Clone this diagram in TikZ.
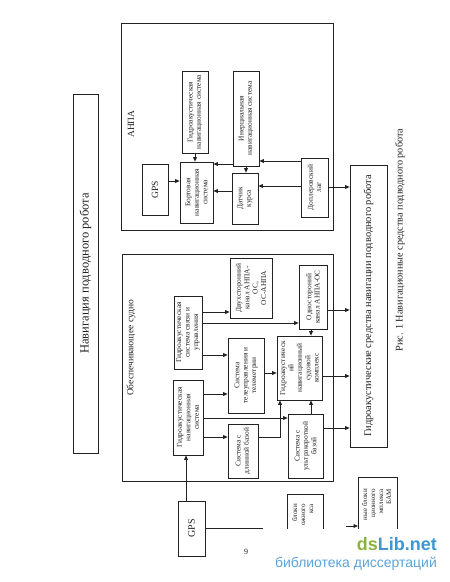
\documentclass[tikz,border=0pt]{standalone}
\usepackage{fontspec}
\setmainfont{Liberation Serif}
\newfontfamily\wmfont{Liberation Sans}
\usetikzlibrary{arrows.meta}
\definecolor{ink}{HTML}{222222}
\definecolor{frame}{HTML}{6A6A6A}
\definecolor{wmgreen}{HTML}{8CB43C}
\definecolor{wmblue}{HTML}{3D98D0}
\definecolor{wmlight}{HTML}{5AA5DA}
% box: name, x1, y1, x2, y2, text options, text
\newcommand{\bx}[7]{\node[box, minimum width={(#4-#2)*1pt}, minimum height={(#5-#3)*1pt}, label={[bt,#6]center:{#7}}] (#1) at ({(#2+#4)/2},{(#3+#5)/2}) {};}
\begin{document}
\begin{tikzpicture}[x=1pt,y=-1pt,
  box/.style={draw=ink, line width=0.75pt, inner sep=0pt},
  bt/.style={rotate=90, align=center, inner sep=0pt, text=ink, font=\fontsize{7.4}{8.4}\selectfont},
  lbl/.style={text=ink, inner sep=0pt, rotate=90},
  arr/.style={draw=ink, line width=0.75pt, -{Triangle[length=4.5pt,width=3.8pt]}},
  ln/.style={draw=ink, line width=0.75pt}]
\useasboundingbox (0,0) rectangle (450,582);
\fill[white] (0,0) rectangle (450,582);

% title
\bx{title}{73}{94}{98}{453}{font=\fontsize{12.5}{14}\selectfont}{Навигация подводного робота}

% frames
\bx{anpa}{121}{23}{333}{230}{}{}
\node[lbl, font=\fontsize{9.5}{10}\selectfont] (anpaL) at (131,124) {АНПА};
\bx{ship}{122}{254}{333}{481}{}{}
\node[lbl, font=\fontsize{9.5}{10}\selectfont] (shipL) at (131,348) {Обеспечивающее судно};

% big box and caption
\bx{big}{350}{165}{387}{447}{font=\fontsize{10.4}{12}\selectfont}{Гидроакустические средства навигации подводного робота}
\node[lbl, font=\fontsize{10.2}{12}\selectfont] (cap) at (400,240) {Рис. 1 Навигационные средства подводного робота};

% ANPA inner
\bx{gpsA}{142}{164}{168}{215}{font=\fontsize{9.5}{10}\selectfont}{GPS}
\bx{bort}{180}{162}{213}{223}{}{Бортовая\\навигационная\\система}
\bx{hydA}{182}{71}{208}{153}{}{Гидроакустическая\\навигационная система}
\bx{iner}{233}{71}{259}{166}{}{Инерциальная\\навигационная система}
\bx{dk}{232}{173}{258}{224}{}{Датчик\\курса}
\bx{dop}{301}{158}{328}{217}{}{Доплеровский\\лаг}

\draw[arr] (gpsA.east |- 0,181) -- (bort.west |- 0,181);
\draw[arr] (hydA.south) -- (bort.north -| hydA.south);
\draw[arr] (iner.west |- 0,164) -- (bort.east |- 0,164);
\draw[arr] (iner.south) -- (dk.north -| iner.south);
\draw[arr] (dop.west |- 0,161) -- (iner.east |- 0,161);
\draw[arr] (dop.west |- 0,186) -- (dk.east |- 0,186);
\draw[arr] (dk.west |- 0,191) -- (bort.east |- 0,191);
\draw[arr] (dop.east |- 0,187) -- (big.west |- 0,187);

% ship inner
\bx{comm}{174}{296}{202}{369}{}{Гидроакустическая\\система связи и\\управления}
\bx{navS}{173}{380}{203}{455}{}{Гидроакустическая\\навигационная\\система}
\bx{tele}{228}{338}{264}{413}{}{Система\\телеуправления и\\телеметрии}
\bx{two}{230}{258}{272}{318}{}{Двухсторонний\\канал АНПА-\\ОС,\\ОС-АНПА}
\bx{one}{299}{265}{327}{329}{}{Одностороний\\канал АНПА-ОС}
\bx{cplx}{277}{336}{322}{400}{}{Гидроакустическ\\ий\\навигационный\\судовой\\комплекс}
\bx{lb}{228}{424}{258}{478}{}{Система с\\длинной базой}
\bx{usb}{288}{414}{323}{478}{}{Система с\\ультракороткой\\базой}
\bx{gpsS}{178}{501}{205}{556}{font=\fontsize{10}{11}\selectfont}{GPS}

\draw[arr] (comm.east |- 0,312) -- (two.west |- 0,312);
\draw[arr] (comm.east |- 0,323) -- (one.west |- 0,323);
\draw[arr] (comm.east |- 0,355) -- (tele.west |- 0,355);
\draw[arr] (navS.east |- 0,394) -- (tele.west |- 0,394);
\draw[arr] (navS.east |- 0,418) -- (usb.west |- 0,418);
\draw[arr] (navS.east |- 0,437) -- (lb.west |- 0,437);
\draw[arr] (tele.east |- 0,373) -- (cplx.west |- 0,373);
\draw[arr] (lb.east |- 0,437) -| (cplx.south -| 280,0);
\draw[arr] (usb.north -| 311,0) -- (cplx.south -| 311,0);
\draw[arr] (one.south -| 311,0) -- (cplx.north -| 311,0);
\draw[arr] (one.east |- 0,310) -- (big.west |- 0,310);
\draw[arr] (cplx.east |- 0,376) -- (big.west |- 0,376);
\draw[arr] (usb.east |- 0,428) -- (big.west |- 0,428);
\draw[arr] (gpsS.north -| 186,0) -- (navS.south -| 186,0);
\coordinate (cut) at (263,528);
\draw[ln] (gpsS.east |- cut) -- (cut);

% partial boxes (cut by the watermark)
\draw[ln] (287,529) |- (323,494) -- (323,529);
\draw[ln] (358,529) |- (397,477) -- (397,529);
\node[lbl, font=\fontsize{7}{8}\selectfont, anchor=north east, align=right] (p1) at (292,504) {блоки\\ожного\\кса};
\node[lbl, font=\fontsize{7}{8}\selectfont, anchor=north east, align=right] (p2) at (362,489) {ные блоки\\ционного\\мплекса\\БАМ};
\coordinate (stub) at (346,526);
\draw[arr] (stub) -- (stub -| 358,0);

\node[inner sep=0pt, text=ink, font=\fontsize{8}{9}\selectfont] (pg) at (246,552) {9};

% watermark
\fill[white] (263,529) rectangle (450,582);
\node[anchor=base east, inner sep=0pt, font=\wmfont\bfseries\fontsize{18}{20}\selectfont] (wm1) at (437,550) {\textcolor{wmgreen}{ds}\textcolor{wmblue}{Lib.net}};
\node[anchor=base east, inner sep=0pt, text=wmlight, font=\wmfont\fontsize{14}{16}\selectfont] (wm2) at (437,567) {библиотека диссертаций};
\end{tikzpicture}
\end{document}
